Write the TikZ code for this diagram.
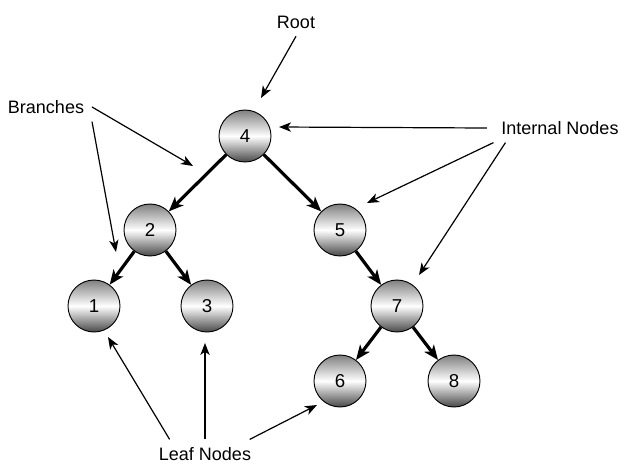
\documentclass[tikz,border=0pt]{standalone}
\usepackage{fontspec}
\setmainfont{Liberation Sans}
\usetikzlibrary{arrows.meta, positioning}
\tikzstyle{vertex}   = [draw, circle, line width=0.7pt, minimum size=39pt, inner sep=0pt, top color=black!50, bottom color=black!72, middle color=white, font=\fontsize{14}{16}\selectfont]
\tikzstyle{diredge}  = [line width=2.4pt, -{Stealth[length=11pt,width=9pt,inset=3pt]}]
\tikzstyle{pointer}  = [line width=0.9pt, -{Stealth[length=9pt,width=7pt,inset=2.5pt]}]
\tikzstyle{textnote} = [inner sep=0pt, outer sep=6pt, font=\fontsize{13.5}{16}\selectfont]
\begin{document}
\begin{tikzpicture}[x=0.75pt,y=-0.75pt]
\useasboundingbox (0,0) rectangle (621,465);

\node[vertex] (N4) at (245,136) {4};
\node[vertex] (N2) at (150,230) {2};
\node[vertex] (N5) at (340,230) {5};
\node[vertex] (N1) at (94,306) {1};
\node[vertex] (N3) at (207,306) {3};
\node[vertex] (N7) at (397,306) {7};
\node[vertex] (N6) at (340,381) {6};
\node[vertex] (N8) at (454,381) {8};

\draw[diredge] (N4) -- (N2);
\draw[diredge] (N4) -- (N5);
\draw[diredge] (N2) -- (N1);
\draw[diredge] (N2) -- (N3);
\draw[diredge] (N5) -- (N7);
\draw[diredge] (N7) -- (N6);
\draw[diredge] (N7) -- (N8);

\node[textnote] (Root)     at (296,22)  {Root};
\node[textnote] (Branches) at (46,107)  {Branches};
\node[textnote] (Internal) at (560,128) {Internal Nodes};
\node[textnote] (Leaf)     at (205,454) {Leaf Nodes};

\coordinate (RootTip) at (261,98);
\coordinate (BrA) at (193,166);
\coordinate (BrB) at (116,252);
\coordinate (InA) at (279,127);
\coordinate (InB) at (367,203);
\coordinate (InC) at (419,275);
\coordinate (LfA) at (108,337);
\coordinate (LfB) at (205,343);
\coordinate (LfC) at (317,405);

\draw[pointer] (Root.south) -- (RootTip);
\draw[pointer] (Branches.east) -- (BrA);
\draw[pointer] (Branches.south east) -- (BrB);
\draw[pointer] ([xshift=-5pt]Internal.west) -- (InA);
\draw[pointer] (Internal.south west) -- (InB);
\draw[pointer] ([xshift=9pt]Internal.south west) -- (InC);
\draw[pointer] ([xshift=14pt]Leaf.north west) -- (LfA);
\draw[pointer] (Leaf.north) -- (LfB);
\draw[pointer] ([xshift=-7pt]Leaf.north east) -- (LfC);

\end{tikzpicture}
\end{document}
